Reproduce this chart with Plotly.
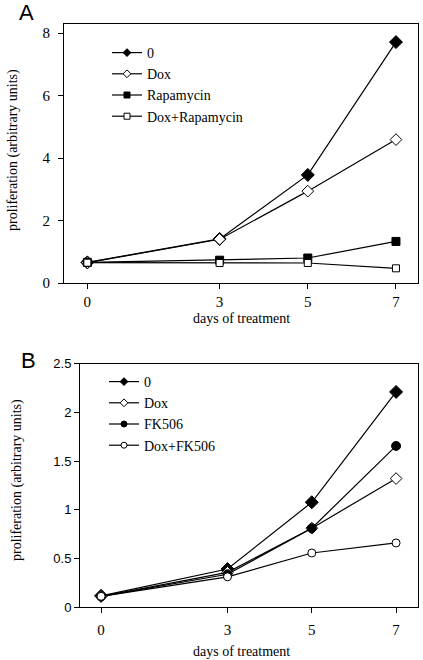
import plotly.graph_objects as go

days = [0, 3, 5, 7]
x_ticks = ["0", "3", "5", "7"]

# Panel A
a_names = ["0", "Dox", "Rapamycin", "Dox+Rapamycin"]
a_ctrl = [0.66, 1.41, 3.46, 7.71]
a_dox = [0.65, 1.40, 2.94, 4.59]
a_rapa = [0.66, 0.73, 0.80, 1.33]
a_doxrapa = [0.65, 0.64, 0.64, 0.47]
a_yticks = [0, 2, 4, 6, 8]

# Panel B
b_names = ["0", "Dox", "FK506", "Dox+FK506"]
b_ctrl = [0.115, 0.39, 1.076, 2.21]
b_dox = [0.11, 0.356, 0.81, 1.32]
b_fk = [0.11, 0.336, 0.81, 1.655]
b_doxfk = [0.11, 0.31, 0.555, 0.658]
b_yticks = [0, 0.5, 1, 1.5, 2, 2.5]
b_yticklabels = ["0", "0.5", "1", "1.5", "2", "2.5"]

W, H = 423, 660


def px(x):
    return x / W


def py(y):
    return 1 - y / H


SERIF = "Liberation Serif, Times New Roman, serif"
SANS = "Liberation Sans, Arial, sans-serif"

fig = go.Figure()


def add(x, y, name, symbol, size, lsize, fill, xa, ya, legend):
    fig.add_trace(go.Scatter(
        x=x, y=y, name=name, mode="lines+markers", showlegend=False,
        line=dict(color="black", width=1.2),
        marker=dict(symbol=symbol, size=size, color=fill,
                    line=dict(color="black", width=1)),
        xaxis=xa, yaxis=ya, cliponaxis=False,
    ))
    fig.add_trace(go.Scatter(
        x=[None], y=[None], name=name, mode="lines+markers", showlegend=True,
        line=dict(color="black", width=1.2),
        marker=dict(symbol=symbol, size=lsize, color=fill,
                    line=dict(color="black", width=1)),
        xaxis=xa, yaxis=ya, legend=legend,
    ))


add(days, a_ctrl, a_names[0], "diamond", 10, 6, "black", "x", "y", "legend")
add(days, a_dox, a_names[1], "diamond", 9, 6, "white", "x", "y", "legend")
add(days, a_rapa, a_names[2], "square", 8, 6, "black", "x", "y", "legend")
add(days, a_doxrapa, a_names[3], "square", 7, 6, "white", "x", "y", "legend")

add(days, b_ctrl, b_names[0], "diamond", 10, 6, "black", "x2", "y2", "legend2")
add(days, b_dox, b_names[1], "diamond", 9, 6, "white", "x2", "y2", "legend2")
add(days, b_fk, b_names[2], "circle", 9, 6, "black", "x2", "y2", "legend2")
add(days, b_doxfk, b_names[3], "circle", 8, 6, "white", "x2", "y2", "legend2")

axis_common = dict(showline=True, linecolor="black", linewidth=1, mirror=True,
                   ticks="outside", ticklen=5, tickcolor="black", showgrid=False,
                   zeroline=False, automargin=False)

fig.update_layout(
    width=W, height=H, margin=dict(l=0, r=0, t=0, b=0, autoexpand=False),
    paper_bgcolor="white", plot_bgcolor="white",
    xaxis=dict(domain=[px(64), px(418)], range=[-0.53, 7.5], tickvals=days, ticktext=x_ticks,
               tickfont=dict(family=SERIF, size=15, color="black"), anchor="y", **axis_common),
    yaxis=dict(domain=[py(283), py(24)], range=[0, 8.29], tickvals=a_yticks,
               tickfont=dict(family=SERIF, size=15, color="black"), anchor="x",
               ticklabelstandoff=5, **axis_common),
    xaxis2=dict(domain=[px(80), px(418)], range=[-0.5, 7.52], tickvals=days, ticktext=x_ticks,
                tickfont=dict(family=SERIF, size=15, color="black"), anchor="y2",
                ticklabelstandoff=4, **axis_common),
    yaxis2=dict(domain=[py(607), py(363.7)], range=[0, 2.5], tickvals=b_yticks,
                ticktext=b_yticklabels,
                tickfont=dict(family=SANS, size=13, color="black"),
                anchor="x2", **axis_common),
    legend=dict(x=px(107), y=py(37), xanchor="left", yanchor="top",
                font=dict(family=SERIF, size=14, color="black"),
                bgcolor="rgba(0,0,0,0)", tracegroupgap=0, itemwidth=30),
    legend2=dict(x=px(104), y=py(366), xanchor="left", yanchor="top",
                 font=dict(family=SERIF, size=14, color="black"),
                 bgcolor="rgba(0,0,0,0)", tracegroupgap=0, itemwidth=30),
    showlegend=True,
)

ann = []
ann.append(dict(text="A", x=px(26), y=py(13), font=dict(family=SANS, size=22, color="black")))
ann.append(dict(text="B", x=px(28), y=py(360), font=dict(family=SANS, size=22, color="black")))
ann.append(dict(text="days of treatment", x=px(241), y=py(318),
                font=dict(family=SERIF, size=14, color="black")))
ann.append(dict(text="days of treatment", x=px(241), y=py(651),
                font=dict(family=SERIF, size=14, color="black")))
ann.append(dict(text="proliferation (arbitrary units)", x=px(13), y=py(150), textangle=-90,
                font=dict(family=SERIF, size=14, color="black")))
ann.append(dict(text="proliferation (arbitrary units)", x=px(17), y=py(480), textangle=-90,
                font=dict(family=SERIF, size=14, color="black")))
for a in ann:
    a.update(xref="paper", yref="paper", showarrow=False, xanchor="center", yanchor="middle")
fig.update_layout(annotations=ann)

fig.write_html("out.html", config={"displayModeBar": False},
               post_script="document.body.style.margin='0';")
